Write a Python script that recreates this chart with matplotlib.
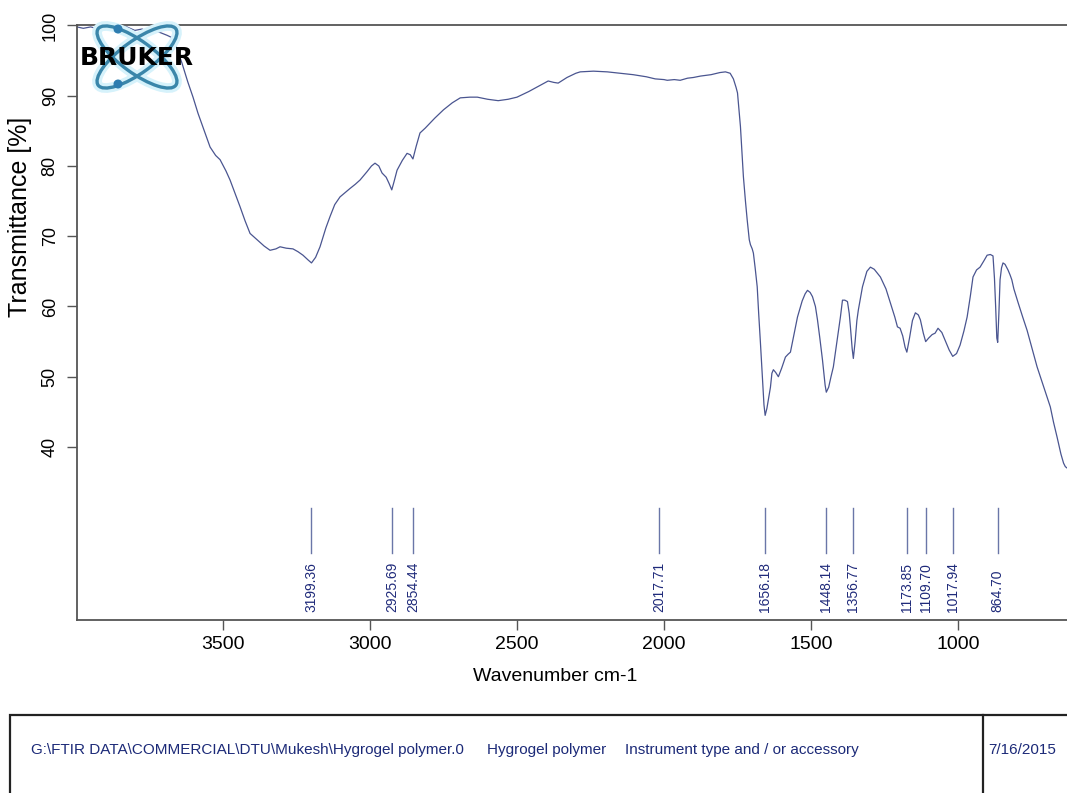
import numpy as np
import matplotlib
matplotlib.use("Agg")
import matplotlib.pyplot as plt
from matplotlib.patches import Ellipse, Rectangle, Circle
from matplotlib.lines import Line2D
import matplotlib.transforms as mtransforms

plt.rcParams['font.family'] = ['Liberation Sans', 'DejaVu Sans']

# ---- data ----
wavenumber = [3997, 3975, 3950, 3925, 3900, 3875, 3850, 3827, 3800, 3775, 3750, 3730, 3714, 3690, 3670,
              3655, 3640, 3620, 3602, 3585, 3568, 3544, 3525, 3510, 3490, 3476, 3460, 3442, 3425, 3408,
              3384, 3360, 3340, 3320, 3306, 3285, 3262, 3245, 3228, 3210, 3199, 3185, 3170, 3150, 3136,
              3120, 3102, 3085, 3068, 3050, 3034, 3010, 2995, 2983, 2970, 2959, 2945, 2935, 2926, 2918,
              2908, 2890, 2874, 2863, 2854, 2843, 2830, 2812, 2780, 2750, 2720, 2693, 2660, 2635, 2600,
              2564, 2530, 2500, 2460, 2420, 2394, 2375, 2360, 2330, 2300, 2285, 2240, 2193, 2150, 2105,
              2060, 2030, 2000, 1989, 1965, 1945, 1920, 1900, 1876, 1840, 1810, 1791, 1775, 1764, 1755,
              1750, 1745, 1740, 1735, 1730, 1723, 1717, 1710, 1706, 1700, 1696, 1690, 1683, 1678, 1672,
              1665, 1660, 1656, 1650, 1644, 1638, 1633, 1628, 1620, 1611, 1600, 1587, 1578, 1570, 1558,
              1546, 1530, 1520, 1512, 1503, 1495, 1485, 1478, 1470, 1461, 1452, 1448, 1440, 1432, 1424,
              1410, 1400, 1393, 1385, 1376, 1370, 1366, 1360, 1356, 1350, 1344, 1339, 1325, 1310, 1298,
              1285, 1264, 1245, 1230, 1215, 1206, 1197, 1188, 1180, 1174, 1165, 1155, 1145, 1135, 1128,
              1118, 1110, 1100, 1088, 1078, 1068, 1055, 1044, 1030, 1018, 1005, 993, 980, 969, 958,
              949, 937, 925, 912, 901, 890, 881, 876, 872, 868, 865, 861, 857, 852, 847,
              840, 830, 823, 817, 810, 796, 780, 765, 748, 731, 708, 686, 675, 663, 650,
              641, 635, 629]
transmittance = [99.8, 99.6, 99.8, 99.5, 99.7, 99.4, 99.6, 99.8, 99.3, 99.5, 99.0, 99.2, 99.0, 98.6, 98.2,
                 96.5, 94.7, 92.0, 89.8, 87.5, 85.5, 82.7, 81.5, 80.9, 79.3, 78.0, 76.2, 74.2, 72.2, 70.4,
                 69.5, 68.6, 68.0, 68.2, 68.5, 68.3, 68.2, 67.8, 67.3, 66.6, 66.2, 67.0, 68.5, 71.2, 72.8,
                 74.5, 75.6, 76.2, 76.8, 77.4, 78.0, 79.2, 80.0, 80.4, 80.0, 79.0, 78.4, 77.5, 76.6, 77.8,
                 79.4, 80.8, 81.8, 81.6, 81.0, 82.8, 84.7, 85.4, 86.8, 88.0, 89.0, 89.7, 89.8, 89.8, 89.5,
                 89.3, 89.5, 89.8, 90.6, 91.5, 92.1, 91.9, 91.8, 92.6, 93.2, 93.4, 93.5, 93.4, 93.2, 93.0,
                 92.7, 92.4, 92.3, 92.2, 92.3, 92.2, 92.5, 92.6, 92.8, 93.0, 93.3, 93.4, 93.2, 92.4, 91.2,
                 90.4, 88.0, 85.6, 82.0, 78.5, 75.0, 72.3, 69.5, 68.8, 68.2, 67.6, 65.5, 62.8, 59.0, 54.8,
                 49.5, 46.0, 44.5, 45.5, 47.0, 48.5, 50.5, 51.0, 50.6, 50.0, 51.2, 52.8, 53.2, 53.5, 56.0,
                 58.5, 60.8, 61.8, 62.3, 62.0, 61.4, 60.0, 58.1, 55.5, 52.4, 48.8, 47.8, 48.5, 50.0, 51.4,
                 55.5, 58.5, 60.9, 60.9, 60.7, 59.0, 57.1, 54.0, 52.6, 55.0, 58.0, 59.5, 62.8, 65.0, 65.6,
                 65.3, 64.2, 62.5, 60.5, 58.5, 57.1, 56.9, 55.8, 54.2, 53.5, 55.5, 58.0, 59.1, 58.8, 58.1,
                 56.2, 55.0, 55.5, 56.0, 56.2, 56.9, 56.3, 55.2, 53.8, 52.9, 53.3, 54.5, 56.5, 58.5, 61.5,
                 64.2, 65.2, 65.6, 66.5, 67.3, 67.4, 67.2, 64.0, 60.0, 55.5, 54.9, 59.0, 63.8, 65.5, 66.2,
                 66.0, 65.2, 64.5, 63.8, 62.5, 60.6, 58.5, 56.6, 54.0, 51.4, 48.5, 45.7, 43.5, 41.4, 39.0,
                 37.7, 37.2, 37.0]

peak_positions = [3199.36, 2925.69, 2854.44, 2017.71, 1656.18, 1448.14, 1356.77,
                  1173.85, 1109.70, 1017.94, 864.70]
peak_labels = ["3199.36", "2925.69", "2854.44", "2017.71", "1656.18", "1448.14", "1356.77",
               "1173.85", "1109.70", "1017.94", "864.70"]

x_ticks = [3500, 3000, 2500, 2000, 1500, 1000]
y_ticks = [40, 50, 60, 70, 80, 90, 100]

info_texts = [r"G:\FTIR DATA\COMMERCIAL\DTU\Mukesh\Hygrogel polymer.0",
              "Hygrogel polymer",
              "Instrument type and / or accessory",
              "7/16/2015"]

# ---- figure ----
W, H = 1067, 793
fig = plt.figure(figsize=(W / 100, H / 100), dpi=100)

def fx(px):
    return px / W

def fy(py):
    return 1 - py / H

ax_left, ax_right, ax_top, ax_bot = 77, 1067, 25.5, 620
ax = fig.add_axes([fx(ax_left), fy(ax_bot), fx(ax_right - ax_left), (ax_bot - ax_top) / H])

curve_color = '#4a5590'
ax.plot(wavenumber, transmittance, color=curve_color, lw=0.9)
ax.set_xlim(3996.6, 629.3)
ax.set_ylim(15.37, 100)

spine_color = '#555555'
for s in ['left', 'bottom', 'top']:
    ax.spines[s].set_color(spine_color)
    ax.spines[s].set_linewidth(1.3)
ax.spines['right'].set_visible(False)

ax.set_xticks(x_ticks)
ax.set_xticklabels([str(t) for t in x_ticks], fontsize=14)
ax.set_yticks(y_ticks)
ax.set_yticklabels([str(t) for t in y_ticks], fontsize=13, rotation=90, va='center')
ax.tick_params(axis='both', direction='out', length=7.2, width=1, color=spine_color)
ax.tick_params(axis='x', pad=4)
ax.tick_params(axis='y', pad=6)

ax.set_xlabel("Wavenumber cm-1", fontsize=14)
ax.xaxis.set_label_coords((555 - ax_left) / (ax_right - ax_left), (ax_bot - 668) / (ax_bot - ax_top))
ax.set_ylabel("Transmittance [%]", fontsize=18)
ax.yaxis.set_label_coords((32 - ax_left) / (ax_right - ax_left), (ax_bot - 217) / (ax_bot - ax_top))

# peak markers
trans = mtransforms.blended_transform_factory(ax.transData, ax.transAxes)
for pos, lab in zip(peak_positions, peak_labels):
    ax.plot([pos, pos], [0.113, 0.188], transform=trans, color='#6a76a8', lw=1.0)
    ax.text(pos, 0.0135, lab, transform=trans, rotation=90, ha='center', va='bottom',
            fontsize=10, color='#1f2a7a')

# ---- Bruker logo (pixel coordinates) ----
lx0, lx1, ly0, ly1 = 70, 205, 12, 100
lax = fig.add_axes([fx(lx0), fy(ly1), fx(lx1 - lx0), (ly1 - ly0) / H])
lax.set_xlim(lx0, lx1)
lax.set_ylim(ly1, ly0)
lax.axis('off')
lax.patch.set_alpha(0)
cx, cy = 137, 57
for ang in (36, -36):
    lax.add_patch(Ellipse((cx, cy), 96, 32, angle=ang, fill=False, ec='#d6f2fb', lw=7))
for ang in (36, -36):
    lax.add_patch(Ellipse((cx, cy), 96, 32, angle=ang, fill=False, ec='#3a86aa', lw=2.4))
lax.add_patch(Circle((118, 29), 3.8, color='#2e7db0'))
lax.add_patch(Circle((118, 84), 3.8, color='#2e7db0'))
lax.text(137, 58, "BRUKER", ha='center', va='center', fontsize=18, fontweight='heavy',
         family='DejaVu Sans', color='black')

# ---- info box ----
fig.add_artist(Rectangle((fx(10), fy(800)), fx(1100), fy(715) - fy(800), transform=fig.transFigure,
                         fill=False, ec='#222222', lw=1.6, clip_on=False))
fig.add_artist(Line2D([fx(983), fx(983)], [fy(715), fy(800)], transform=fig.transFigure,
                      color='#222222', lw=1.6))
for xp, t in zip([31, 487, 625, 988], info_texts):
    fig.text(fx(xp), fy(750), t, ha='left', va='center', fontsize=11, color='#1c2a78')

fig.savefig("out.png", dpi=100)
